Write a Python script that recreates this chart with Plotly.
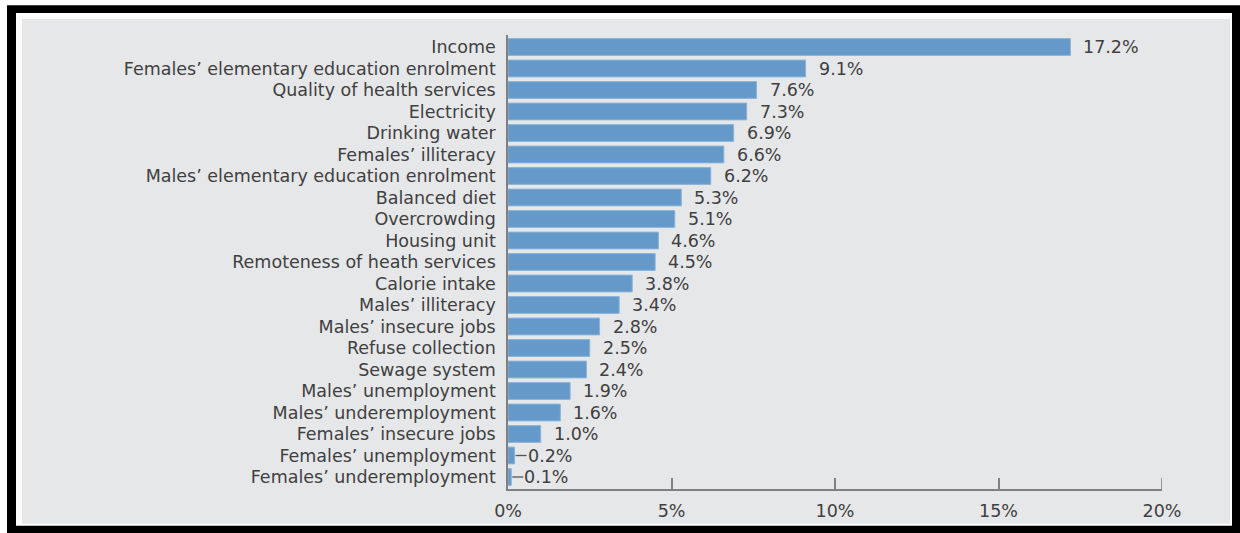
import plotly.graph_objects as go

categories = [
    "Income",
    "Females’ elementary education enrolment",
    "Quality of health services",
    "Electricity",
    "Drinking water",
    "Females’ illiteracy",
    "Males’ elementary education enrolment",
    "Balanced diet",
    "Overcrowding",
    "Housing unit",
    "Remoteness of heath services",
    "Calorie intake",
    "Males’ illiteracy",
    "Males’ insecure jobs",
    "Refuse collection",
    "Sewage system",
    "Males’ unemployment",
    "Males’ underemployment",
    "Females’ insecure jobs",
    "Females’ unemployment",
    "Females’ underemployment",
]
values = [17.2, 9.1, 7.6, 7.3, 6.9, 6.6, 6.2, 5.3, 5.1, 4.6, 4.5, 3.8, 3.4, 2.8, 2.5, 2.4, 1.9, 1.6, 1.0, 0.2, 0.1]
tick_vals = [0, 5, 10, 15, 20]
tick_text = ["0%", "5%", "10%", "15%", "20%"]

W, H = 1240, 533
L, R, T, B = 508, 78, 35, 42
pw, ph = W - L - R, H - T - B

def px(x):
    return (x - L) / pw

def py(y):
    return (H - B - y) / ph

FONT = "DejaVu Sans"
TXT = "#404040"
FS = 17.5
AX = "#808080"

fig = go.Figure()
fig.add_trace(go.Bar(
    x=values, y=categories, orientation="h",
    marker=dict(color="#6499c9", line=dict(color="#8ab4da", width=1)),
    width=0.78, hoverinfo="skip",
))

annotations = []
shapes = [
    dict(type="rect", xref="paper", yref="paper", x0=px(7), x1=px(1250), y0=py(5), y1=py(545),
         fillcolor="black", line=dict(width=0), layer="below"),
    dict(type="rect", xref="paper", yref="paper", x0=px(16), x1=px(1232), y0=py(13), y1=py(528),
         fillcolor="white", line=dict(width=0), layer="below"),
    dict(type="rect", xref="paper", yref="paper", x0=px(22), x1=px(1230), y0=py(19), y1=py(526),
         fillcolor="#e6e7e9", line=dict(width=0), layer="below"),
    # end tick at the last tick value (plotly skips the tick at the range edge)
    dict(type="line", xref="x", yref="paper", ysizemode="pixel", yanchor=0,
         x0=tick_vals[-1], x1=tick_vals[-1], y0=0, y1=11, line=dict(color=AX, width=1.5)),
]
for c, v in zip(categories, values):
    annotations.append(dict(
        x=v, y=c, xref="x", yref="y", text=f"{v:.1f}%", showarrow=False,
        xanchor="left", xshift=11, font=dict(family=FONT, size=FS, color=TXT),
    ))
    if v < 0.5:
        shapes.append(dict(type="line", xref="x", yref="y", xsizemode="pixel", xanchor=v,
                           x0=1, x1=12, y0=c, y1=c, line=dict(color="#555", width=1.3)))

fig.update_layout(
    width=W, height=H,
    margin=dict(l=L, r=R, t=T, b=B),
    paper_bgcolor="white",
    plot_bgcolor="rgba(0,0,0,0)",
    showlegend=False,
    bargap=0.2,
    font=dict(family=FONT, size=FS, color=TXT),
    annotations=annotations,
    shapes=shapes,
    xaxis=dict(
        range=[0, 20], tickvals=tick_vals, ticktext=tick_text,
        showgrid=False, zeroline=False, showline=True, linecolor=AX, linewidth=1.5,
        ticks="inside", ticklen=11, tickcolor=AX, tickwidth=1.5,
        tickfont=dict(family=FONT, size=FS, color=TXT), ticklabelstandoff=5,
        fixedrange=True,
    ),
    yaxis=dict(
        autorange="reversed", showgrid=False, zeroline=False, showline=True,
        linecolor=AX, linewidth=1.5, ticks="", ticklabelstandoff=7,
        tickfont=dict(family=FONT, size=FS, color=TXT), fixedrange=True,
    ),
)
fig.write_html("out.html")
